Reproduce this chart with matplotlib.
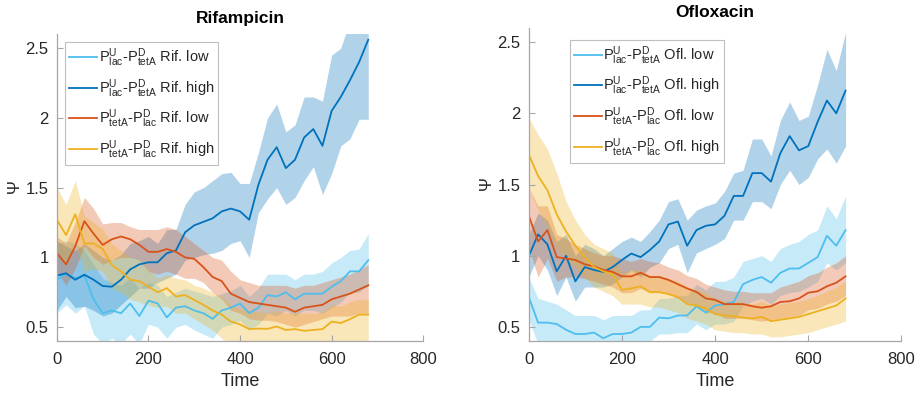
import numpy as np
import matplotlib
matplotlib.use("Agg")
import matplotlib.pyplot as plt

plt.rcParams['font.family'] = ['Liberation Sans', 'DejaVu Sans']
plt.rcParams['mathtext.fontset'] = 'custom'
plt.rcParams['mathtext.rm'] = 'Liberation Sans'
plt.rcParams['mathtext.it'] = 'Liberation Sans:italic'

time = np.arange(0, 681, 20)

# ---- Rifampicin ----
rif_lac_low = [0.84, 0.88, 0.85, 0.87, 0.70, 0.60, 0.62, 0.60, 0.67, 0.58, 0.69, 0.67, 0.57, 0.64, 0.65, 0.62, 0.60, 0.56,
               0.62, 0.64, 0.67, 0.60, 0.64, 0.73, 0.72, 0.75, 0.70, 0.74, 0.74, 0.74, 0.79, 0.83, 0.90, 0.90, 0.98]
rif_lac_low_hi = [1.10, 1.12, 1.10, 1.05, 0.95, 0.85, 0.82, 0.80, 0.85, 0.78, 0.82, 0.80, 0.72, 0.75, 0.78, 0.76, 0.74, 0.72,
                  0.74, 0.76, 0.80, 0.72, 0.78, 0.88, 0.88, 0.88, 0.84, 0.88, 0.88, 0.90, 0.96, 1.00, 1.05, 1.06, 1.17]
rif_lac_low_lo = [0.60, 0.66, 0.60, 0.65, 0.45, 0.38, 0.42, 0.38, 0.45, 0.38, 0.52, 0.50, 0.42, 0.50, 0.52, 0.48, 0.45, 0.42,
                  0.50, 0.52, 0.55, 0.48, 0.52, 0.60, 0.58, 0.62, 0.58, 0.62, 0.62, 0.60, 0.64, 0.68, 0.75, 0.75, 0.80]

rif_lac_high = [0.87, 0.886, 0.84, 0.876, 0.84, 0.795, 0.79, 0.84, 0.914, 0.95, 0.965, 0.965, 1.03, 1.05, 1.18, 1.23, 1.255,
                1.28, 1.33, 1.35, 1.33, 1.27, 1.52, 1.70, 1.79, 1.64, 1.70, 1.86, 1.92, 1.80, 2.05, 2.15, 2.27, 2.40, 2.56]
rif_lac_high_hi = [1.12, 1.08, 1.05, 1.10, 1.05, 1.00, 0.98, 1.02, 1.10, 1.12, 1.15, 1.10, 1.20, 1.20, 1.38, 1.47, 1.50,
                   1.55, 1.60, 1.61, 1.53, 1.53, 1.75, 2.00, 2.10, 1.90, 1.95, 2.15, 2.15, 2.12, 2.45, 2.50, 2.70, 2.80, 2.90]
rif_lac_high_lo = [0.62, 0.72, 0.64, 0.65, 0.62, 0.58, 0.60, 0.66, 0.72, 0.78, 0.78, 0.82, 0.85, 0.88, 0.98, 1.00, 1.02,
                   1.03, 1.05, 1.10, 1.12, 1.00, 1.32, 1.42, 1.50, 1.38, 1.43, 1.55, 1.65, 1.45, 1.60, 1.80, 1.85, 1.99, 1.99]

rif_tet_low = [1.03, 0.95, 1.08, 1.26, 1.17, 1.09, 1.13, 1.15, 1.13, 1.09, 1.04, 1.04, 1.06, 1.04, 1.00, 0.99, 0.93, 0.86,
               0.83, 0.74, 0.71, 0.68, 0.67, 0.66, 0.65, 0.64, 0.61, 0.64, 0.65, 0.66, 0.70, 0.72, 0.74, 0.77, 0.80]
rif_tet_low_hi = [1.15, 1.10, 1.25, 1.43, 1.35, 1.24, 1.25, 1.25, 1.22, 1.20, 1.20, 1.20, 1.22, 1.20, 1.15, 1.10, 1.05, 1.00,
                  0.98, 0.90, 0.84, 0.82, 0.80, 0.80, 0.80, 0.80, 0.78, 0.80, 0.80, 0.82, 0.84, 0.86, 0.88, 0.91, 0.95]
rif_tet_low_lo = [0.90, 0.80, 0.92, 1.08, 1.00, 0.95, 0.98, 1.00, 1.00, 0.98, 0.90, 0.88, 0.90, 0.88, 0.85, 0.85, 0.82, 0.75,
                  0.70, 0.62, 0.60, 0.56, 0.55, 0.55, 0.54, 0.52, 0.50, 0.52, 0.54, 0.56, 0.58, 0.58, 0.58, 0.60, 0.60]

rif_tet_high = [1.27, 1.16, 1.31, 1.10, 1.10, 1.06, 0.945, 0.90, 0.84, 0.83, 0.79, 0.75, 0.78, 0.72, 0.73, 0.695, 0.66, 0.62,
                0.59, 0.54, 0.52, 0.486, 0.49, 0.488, 0.505, 0.48, 0.486, 0.474, 0.48, 0.486, 0.54, 0.53, 0.557, 0.59, 0.59]
rif_tet_high_hi = [1.50, 1.38, 1.55, 1.30, 1.25, 1.20, 1.10, 1.05, 1.00, 0.98, 0.92, 0.85, 0.88, 0.85, 0.84, 0.80, 0.78, 0.75,
                   0.72, 0.66, 0.63, 0.62, 0.61, 0.60, 0.62, 0.60, 0.60, 0.60, 0.60, 0.61, 0.66, 0.65, 0.68, 0.70, 0.70]
rif_tet_high_lo = [1.05, 0.95, 1.10, 0.90, 0.92, 0.90, 0.78, 0.75, 0.70, 0.68, 0.66, 0.64, 0.65, 0.60, 0.60, 0.56, 0.52, 0.48,
                   0.42, 0.38, 0.36, 0.35, 0.35, 0.35, 0.35, 0.35, 0.35, 0.35, 0.35, 0.35, 0.36, 0.36, 0.37, 0.38, 0.38]

# ---- Ofloxacin ----
ofl_lac_low = [0.71, 0.53, 0.53, 0.52, 0.48, 0.45, 0.45, 0.46, 0.42, 0.45, 0.45, 0.46, 0.50, 0.50, 0.565, 0.56, 0.58, 0.58,
               0.645, 0.60, 0.65, 0.66, 0.675, 0.80, 0.83, 0.85, 0.81, 0.88, 0.91, 0.91, 0.95, 0.99, 1.14, 1.07, 1.18]
ofl_lac_low_hi = [0.85, 0.70, 0.68, 0.66, 0.62, 0.58, 0.58, 0.58, 0.55, 0.58, 0.58, 0.58, 0.62, 0.62, 0.70, 0.70, 0.72, 0.72,
                  0.80, 0.76, 0.82, 0.82, 0.85, 0.96, 0.98, 1.00, 0.96, 1.05, 1.08, 1.10, 1.15, 1.18, 1.35, 1.26, 1.42]
ofl_lac_low_lo = [0.55, 0.38, 0.38, 0.38, 0.36, 0.33, 0.33, 0.34, 0.31, 0.33, 0.34, 0.35, 0.38, 0.40, 0.45, 0.45, 0.46, 0.46,
                  0.52, 0.48, 0.52, 0.52, 0.54, 0.65, 0.68, 0.70, 0.66, 0.72, 0.74, 0.75, 0.78, 0.82, 0.95, 0.90, 0.95]

ofl_lac_high = [0.996, 1.15, 1.08, 0.89, 1.00, 0.82, 0.92, 0.90, 0.886, 0.92, 0.97, 1.015, 0.99, 1.04, 1.10, 1.22, 1.24, 1.07,
                1.18, 1.21, 1.22, 1.28, 1.42, 1.42, 1.58, 1.58, 1.52, 1.72, 1.84, 1.74, 1.77, 1.94, 2.09, 2.00, 2.16]
ofl_lac_high_hi = [1.15, 1.30, 1.25, 1.10, 1.15, 1.00, 1.08, 1.05, 1.00, 1.05, 1.10, 1.13, 1.10, 1.17, 1.25, 1.38, 1.40, 1.25,
                   1.32, 1.35, 1.37, 1.45, 1.58, 1.60, 1.82, 1.82, 1.70, 1.95, 2.08, 1.95, 1.98, 2.20, 2.45, 2.30, 2.57]
ofl_lac_high_lo = [0.85, 1.00, 0.90, 0.72, 0.85, 0.68, 0.78, 0.78, 0.78, 0.80, 0.85, 0.90, 0.85, 0.92, 0.95, 1.05, 1.08, 0.88,
                   1.02, 1.05, 1.08, 1.12, 1.25, 1.25, 1.38, 1.38, 1.33, 1.50, 1.60, 1.50, 1.55, 1.68, 1.75, 1.65, 1.77]

ofl_tet_low = [1.28, 1.10, 1.18, 0.99, 0.98, 0.97, 0.94, 0.925, 0.90, 0.886, 0.855, 0.855, 0.88, 0.85, 0.85, 0.83, 0.80, 0.77,
               0.745, 0.70, 0.69, 0.66, 0.66, 0.66, 0.645, 0.635, 0.645, 0.675, 0.68, 0.70, 0.74, 0.75, 0.785, 0.81, 0.855]
ofl_tet_low_hi = [1.48, 1.35, 1.35, 1.15, 1.12, 1.08, 1.05, 1.02, 1.00, 1.00, 0.98, 0.96, 0.98, 0.96, 0.95, 0.92, 0.90, 0.86,
                  0.84, 0.80, 0.78, 0.76, 0.75, 0.75, 0.74, 0.74, 0.74, 0.78, 0.80, 0.82, 0.86, 0.88, 0.92, 0.95, 1.00]
ofl_tet_low_lo = [1.05, 0.85, 0.98, 0.82, 0.85, 0.85, 0.84, 0.82, 0.80, 0.78, 0.74, 0.74, 0.77, 0.74, 0.74, 0.73, 0.70, 0.67,
                  0.65, 0.60, 0.60, 0.56, 0.56, 0.56, 0.55, 0.54, 0.55, 0.56, 0.57, 0.58, 0.62, 0.63, 0.66, 0.68, 0.72]

ofl_tet_high = [1.71, 1.56, 1.46, 1.29, 1.17, 1.07, 0.99, 0.92, 0.89, 0.87, 0.76, 0.77, 0.785, 0.745, 0.745, 0.73, 0.71, 0.66,
                0.65, 0.63, 0.59, 0.58, 0.575, 0.565, 0.56, 0.57, 0.54, 0.55, 0.56, 0.57, 0.59, 0.61, 0.63, 0.65, 0.70]
ofl_tet_high_hi = [1.97, 1.85, 1.75, 1.58, 1.38, 1.25, 1.15, 1.08, 1.05, 1.02, 0.88, 0.90, 0.90, 0.86, 0.86, 0.84, 0.82, 0.78,
                   0.76, 0.74, 0.70, 0.68, 0.68, 0.67, 0.66, 0.68, 0.65, 0.66, 0.67, 0.68, 0.70, 0.72, 0.75, 0.78, 0.82]
ofl_tet_high_lo = [1.48, 1.32, 1.20, 1.05, 0.98, 0.92, 0.85, 0.78, 0.75, 0.72, 0.66, 0.66, 0.66, 0.64, 0.64, 0.62, 0.60, 0.56,
                   0.54, 0.52, 0.48, 0.47, 0.46, 0.46, 0.45, 0.45, 0.43, 0.43, 0.44, 0.45, 0.46, 0.48, 0.50, 0.52, 0.54]

colors = ['#4DBEEE', '#0072BD', '#D95319', '#EDB120']
pair_labels = [r'$\mathrm{P^{U}_{lac}}$-$\mathrm{P^{D}_{tetA}}$',
               r'$\mathrm{P^{U}_{lac}}$-$\mathrm{P^{D}_{tetA}}$',
               r'$\mathrm{P^{U}_{tetA}}$-$\mathrm{P^{D}_{lac}}$',
               r'$\mathrm{P^{U}_{tetA}}$-$\mathrm{P^{D}_{lac}}$']
doses = ['low', 'high', 'low', 'high']

rif = [(rif_lac_low, rif_lac_low_lo, rif_lac_low_hi),
       (rif_lac_high, rif_lac_high_lo, rif_lac_high_hi),
       (rif_tet_low, rif_tet_low_lo, rif_tet_low_hi),
       (rif_tet_high, rif_tet_high_lo, rif_tet_high_hi)]
ofl = [(ofl_lac_low, ofl_lac_low_lo, ofl_lac_low_hi),
       (ofl_lac_high, ofl_lac_high_lo, ofl_lac_high_hi),
       (ofl_tet_low, ofl_tet_low_lo, ofl_tet_low_hi),
       (ofl_tet_high, ofl_tet_high_lo, ofl_tet_high_hi)]

fig = plt.figure(figsize=(9.18, 3.93), dpi=100)
ax1 = fig.add_axes([0.062, 0.132, 0.399, 0.781])
ax2 = fig.add_axes([0.576, 0.132, 0.406, 0.797])

axis_grey = '#a6a6a6'
text_grey = '#262626'


def draw_panel(ax, series, title, short, leg_pos):
    lines = []
    # shaded spread first, mean lines on top
    for (mean, lo, hi), c in zip(series, colors):
        ax.fill_between(time, lo, hi, color=c, alpha=0.31, linewidth=0)
    for (mean, lo, hi), c, pl, d in zip(series, colors, pair_labels, doses):
        ln, = ax.plot(time, mean, color=c, lw=1.3, label=pl + ' ' + short + '. ' + d)
        lines.append(ln)
    ax.set_xlim(0, 800)
    ax.set_ylim(0.4, 2.6)
    ax.set_xticks([0, 200, 400, 600, 800])
    ax.set_yticks([0.5, 1, 1.5, 2, 2.5])
    ax.set_yticklabels(['0.5', '1', '1.5', '2', '2.5'])
    ax.spines['top'].set_visible(False)
    ax.spines['right'].set_visible(False)
    for s in ['left', 'bottom']:
        ax.spines[s].set_color(axis_grey)
        ax.spines[s].set_linewidth(0.9)
    ax.tick_params(direction='in', length=4, width=0.8, color=axis_grey,
                   labelcolor=text_grey, labelsize=12)
    ax.tick_params(axis='x', pad=8)
    ax.tick_params(axis='y', pad=6)
    ax.set_xlabel('Time', fontsize=13, color=text_grey, labelpad=4)
    ax.set_ylabel(r'$\Psi$', fontsize=12, color=text_grey, labelpad=2)
    ax.set_title(title, fontsize=12.5, fontweight='bold', color='black', pad=8)
    leg = ax.legend(handles=lines, loc='upper left', bbox_to_anchor=leg_pos,
                    fontsize=10.5, frameon=True, fancybox=False,
                    handlelength=1.9, handletextpad=0.1, labelspacing=0.55,
                    borderpad=0.3, borderaxespad=0)
    leg.get_frame().set_edgecolor('#b0b0b0')
    leg.get_frame().set_linewidth(0.8)
    for t in leg.get_texts():
        t.set_color(text_grey)


draw_panel(ax1, rif, 'Rifampicin', 'Rif', (0.022, 0.974))
draw_panel(ax2, ofl, 'Ofloxacin', 'Ofl', (0.11, 0.962))

fig.savefig('out.png', dpi=100)
